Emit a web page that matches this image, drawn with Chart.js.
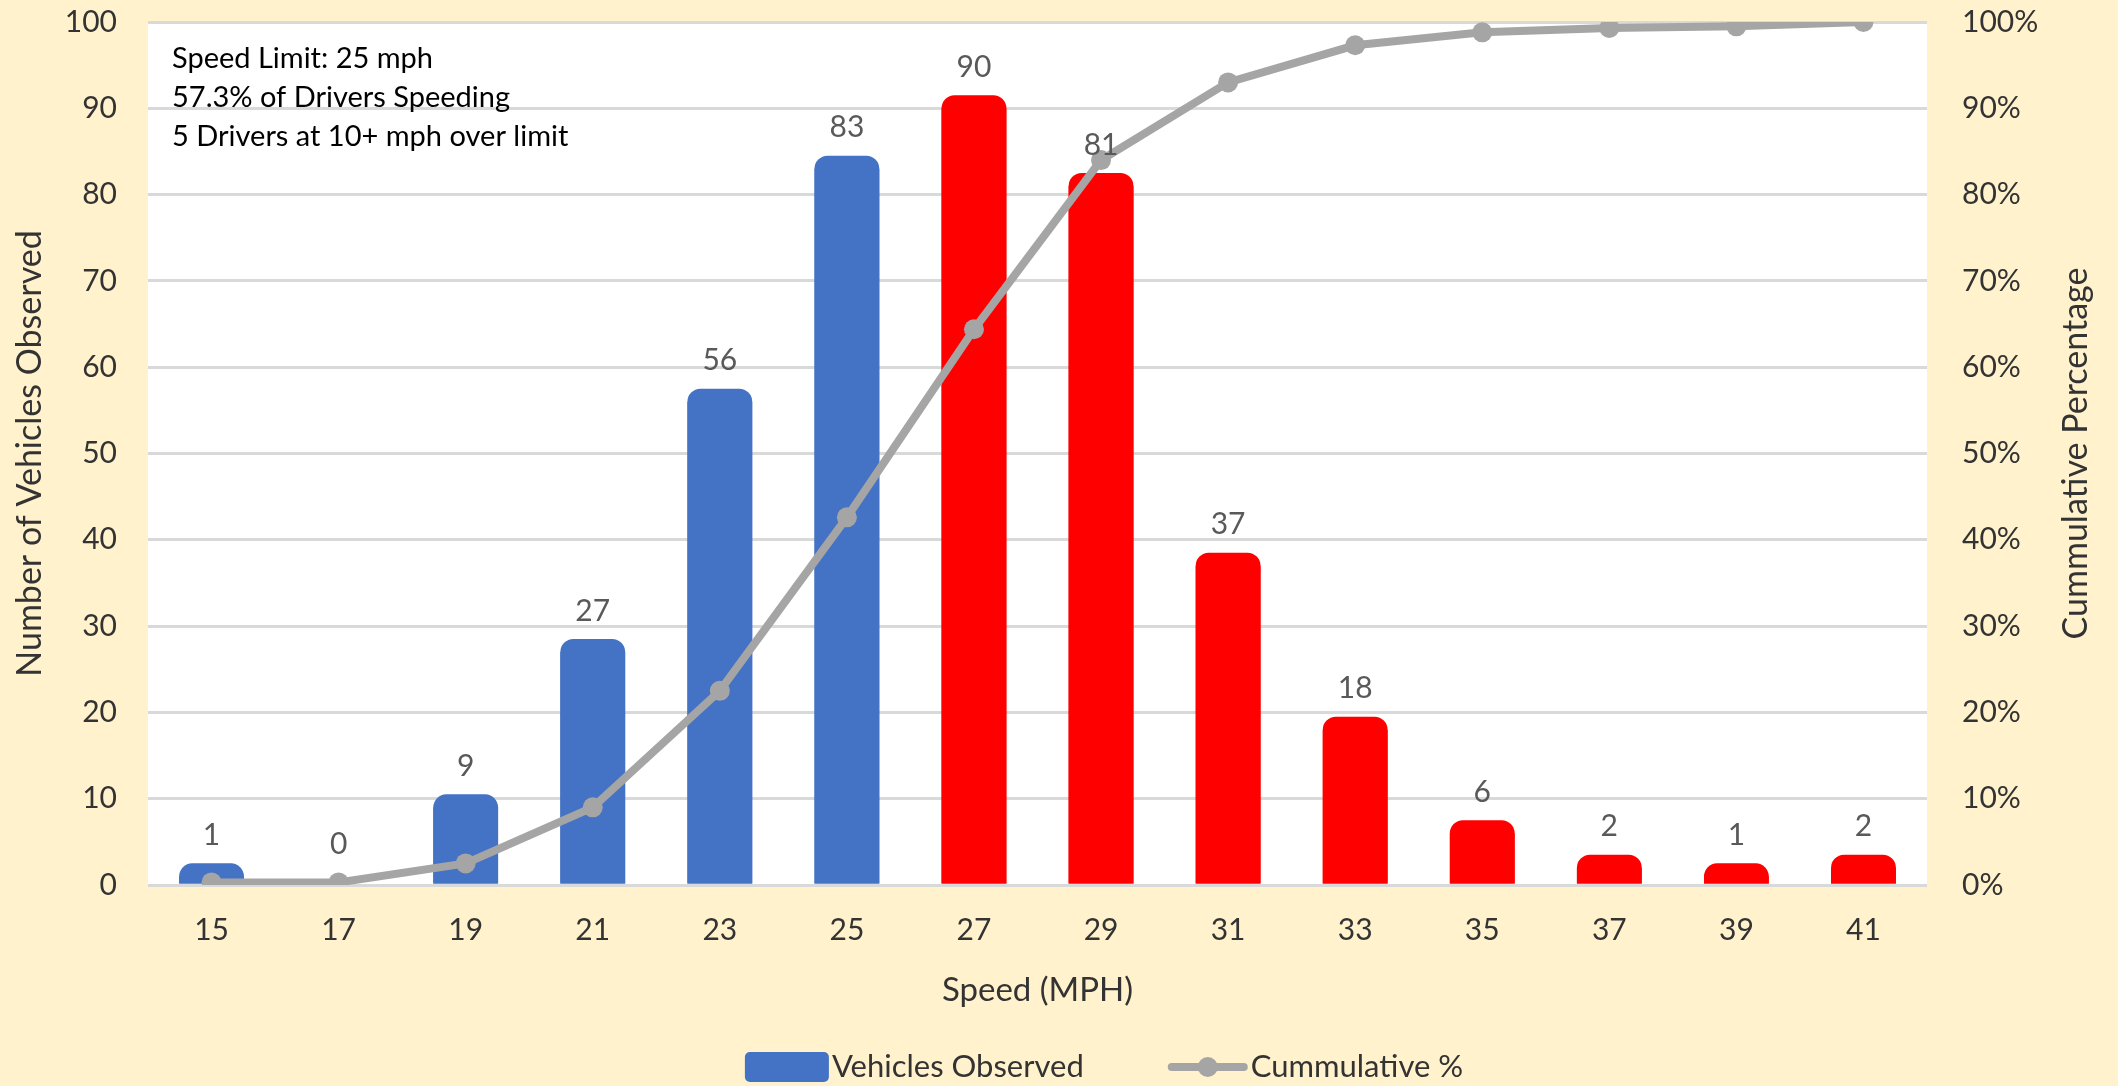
<!DOCTYPE html>
<html>
<head>
<meta charset="utf-8">
<script src="https://cdn.jsdelivr.net/npm/chart.js@4/dist/chart.umd.min.js"></script>
<style>
  html, body { margin: 0; padding: 0; background: #FFF2CC; }
  #wrap { width: 2118px; height: 1086px; position: relative; }
</style>
</head>
<body>
<div id="wrap"><canvas id="c" width="2118" height="1086"></canvas></div>
<script>
// ---- data ----
const speeds = ['15', '17', '19', '21', '23', '25', '27', '29', '31', '33', '35', '37', '39', '41'];
const vehicles = [1, 0, 9, 27, 56, 83, 90, 81, 37, 18, 6, 2, 1, 2];
const cumulativePct = [0.3, 0.3, 2.5, 9.0, 22.5, 42.6, 64.4, 84.0, 93.0, 97.3, 98.8, 99.3, 99.5, 100];
const leftTicks = [0, 10, 20, 30, 40, 50, 60, 70, 80, 90, 100];
const rightTicks = [0, 10, 20, 30, 40, 50, 60, 70, 80, 90, 100];
const noteLines = ['Speed Limit: 25 mph', '57.3% of Drivers Speeding', '5 Drivers at 10+ mph over limit'];
const legendNames = ['Vehicles Observed', 'Cummulative %'];
const speedLimit = 25;

const FONT = 'Lato, "Open Sans", sans-serif';
const BLUE = '#4472C4', RED = '#FF0000', GREY = '#A5A5A5', TXT = '#333333';
const barColors = speeds.map(s => Number(s) > speedLimit ? RED : BLUE);

const EXT = 13; // rounded cap above bars
const BAR_DS = 1;
const decor = {
  id: 'decor',
  beforeDraw(chart) {
    const { ctx, chartArea: a } = chart;
    ctx.save(); ctx.fillStyle = '#FFF2CC'; ctx.fillRect(0, 0, chart.width, chart.height);
    ctx.fillStyle = '#FFFFFF'; ctx.fillRect(a.left, a.top, a.right - a.left, a.bottom - a.top);
    ctx.restore();
  },
  beforeDatasetsDraw(chart) {
    const { ctx } = chart;
    const meta = chart.getDatasetMeta(BAR_DS);
    ctx.save();
    meta.data.forEach((el, i) => {
      if (!vehicles[i]) return;
      const w = el.width;
      ctx.fillStyle = barColors[i];
      ctx.beginPath();
      ctx.roundRect(el.x - w / 2, el.y - EXT, w, el.base - el.y + EXT, [13, 13, 0, 0]);
      ctx.fill();
    });
    ctx.restore();
  },
  afterDatasetsDraw(chart) {
    const { ctx, chartArea: a } = chart;
    const meta = chart.getDatasetMeta(BAR_DS);
    ctx.save();
    // data labels
    ctx.font = '30px ' + FONT; ctx.fillStyle = '#595959';
    ctx.textAlign = 'center'; ctx.textBaseline = 'middle';
    meta.data.forEach((el, i) => ctx.fillText(String(vehicles[i]), el.x, el.y - EXT - 28));
    // note box
    ctx.font = '29px ' + FONT; ctx.fillStyle = '#000000';
    ctx.textAlign = 'left'; ctx.textBaseline = 'middle';
    noteLines.forEach((t, i) => ctx.fillText(t, a.left + 24, a.top + 37 + i * 39));
    ctx.restore();
  },
  afterDraw(chart) {
    const { ctx, chartArea: a } = chart;
    ctx.save();
    // right axis title, reading bottom to top
    ctx.font = '34px ' + FONT; ctx.fillStyle = TXT;
    ctx.textAlign = 'center'; ctx.textBaseline = 'middle';
    ctx.translate(2076, (a.top + a.bottom) / 2); ctx.rotate(-Math.PI / 2);
    ctx.fillText('Cummulative Percentage', 0, 0);
    ctx.restore();
    // legend
    ctx.save();
    ctx.font = '31px ' + FONT; ctx.textBaseline = 'middle'; ctx.textAlign = 'left';
    const t1 = ctx.measureText(legendNames[0]).width, t2 = ctx.measureText(legendNames[1]).width;
    const total = 84 + 3 + t1 + 84 + 80 + 3 + t2;
    let x = 1104 - total / 2; const cy = 1067;
    ctx.fillStyle = BLUE; ctx.beginPath(); ctx.roundRect(x, cy - 15, 84, 30, 5); ctx.fill();
    x += 87; ctx.fillStyle = TXT; ctx.fillText(legendNames[0], x, cy);
    x += t1 + 84;
    ctx.strokeStyle = GREY; ctx.lineWidth = 8; ctx.lineCap = 'round';
    ctx.beginPath(); ctx.moveTo(x + 4, cy); ctx.lineTo(x + 76, cy); ctx.stroke();
    ctx.fillStyle = GREY; ctx.beginPath(); ctx.arc(x + 40, cy, 10, 0, Math.PI * 2); ctx.fill();
    x += 83; ctx.fillStyle = TXT; ctx.fillText(legendNames[1], x, cy);
    ctx.restore();
  }
};

new Chart(document.getElementById('c'), {
  data: {
    labels: speeds,
    datasets: [
      {
        type: 'line', label: legendNames[1], data: cumulativePct, yAxisID: 'y1',
        borderColor: GREY, backgroundColor: GREY, borderWidth: 8,
        pointRadius: 10, pointHoverRadius: 10, pointBackgroundColor: GREY, pointBorderWidth: 0,
        tension: 0, order: 0
      },
      {
        type: 'bar', label: legendNames[0], data: vehicles, yAxisID: 'y',
        backgroundColor: barColors, borderWidth: 0,
        barPercentage: 0.51, categoryPercentage: 1.0, order: 1
      }
    ]
  },
  options: {
    responsive: false, animation: false, devicePixelRatio: 1,
    layout: { padding: { top: 22, left: 0, right: 0, bottom: 0 } },
    plugins: { tooltip: { enabled: false }, legend: { display: false } },
    scales: {
      x: {
        grid: { display: false, drawTicks: false, tickLength: 0 }, border: { display: false },
        ticks: { color: TXT, font: { family: FONT, size: 30 }, padding: 27 },
        title: { display: true, text: 'Speed (MPH)', color: TXT, font: { family: FONT, size: 33 }, padding: { top: 0, bottom: 76 } },
        afterFit(s) { s.height = 201; }
      },
      y: {
        position: 'left', min: 0, max: 100,
        afterBuildTicks(s) { s.ticks = leftTicks.map(v => ({ value: v })); },
        grid: { color: '#D9D9D9', lineWidth: 3, drawTicks: true, tickLength: 31, tickColor: 'rgba(0,0,0,0)' },
        border: { display: false },
        ticks: { color: TXT, font: { family: FONT, size: 30 }, padding: 0 },
        title: { display: true, text: 'Number of Vehicles Observed', color: TXT, font: { family: FONT, size: 34 }, padding: { top: 10, bottom: 0 } },
        afterFit(s) { s.width = 148; }
      },
      y1: {
        position: 'right', min: 0, max: 100,
        afterBuildTicks(s) { s.ticks = rightTicks.map(v => ({ value: v })); },
        grid: { display: true, drawOnChartArea: false, drawTicks: true, tickLength: 35, tickColor: 'rgba(0,0,0,0)' },
        border: { display: false },
        ticks: { color: TXT, font: { family: FONT, size: 30 }, padding: 0, callback: v => v + '%' },
        afterFit(s) { s.width = 191; }
      }
    }
  },
  plugins: [decor]
});
</script>
</body>
</html>
